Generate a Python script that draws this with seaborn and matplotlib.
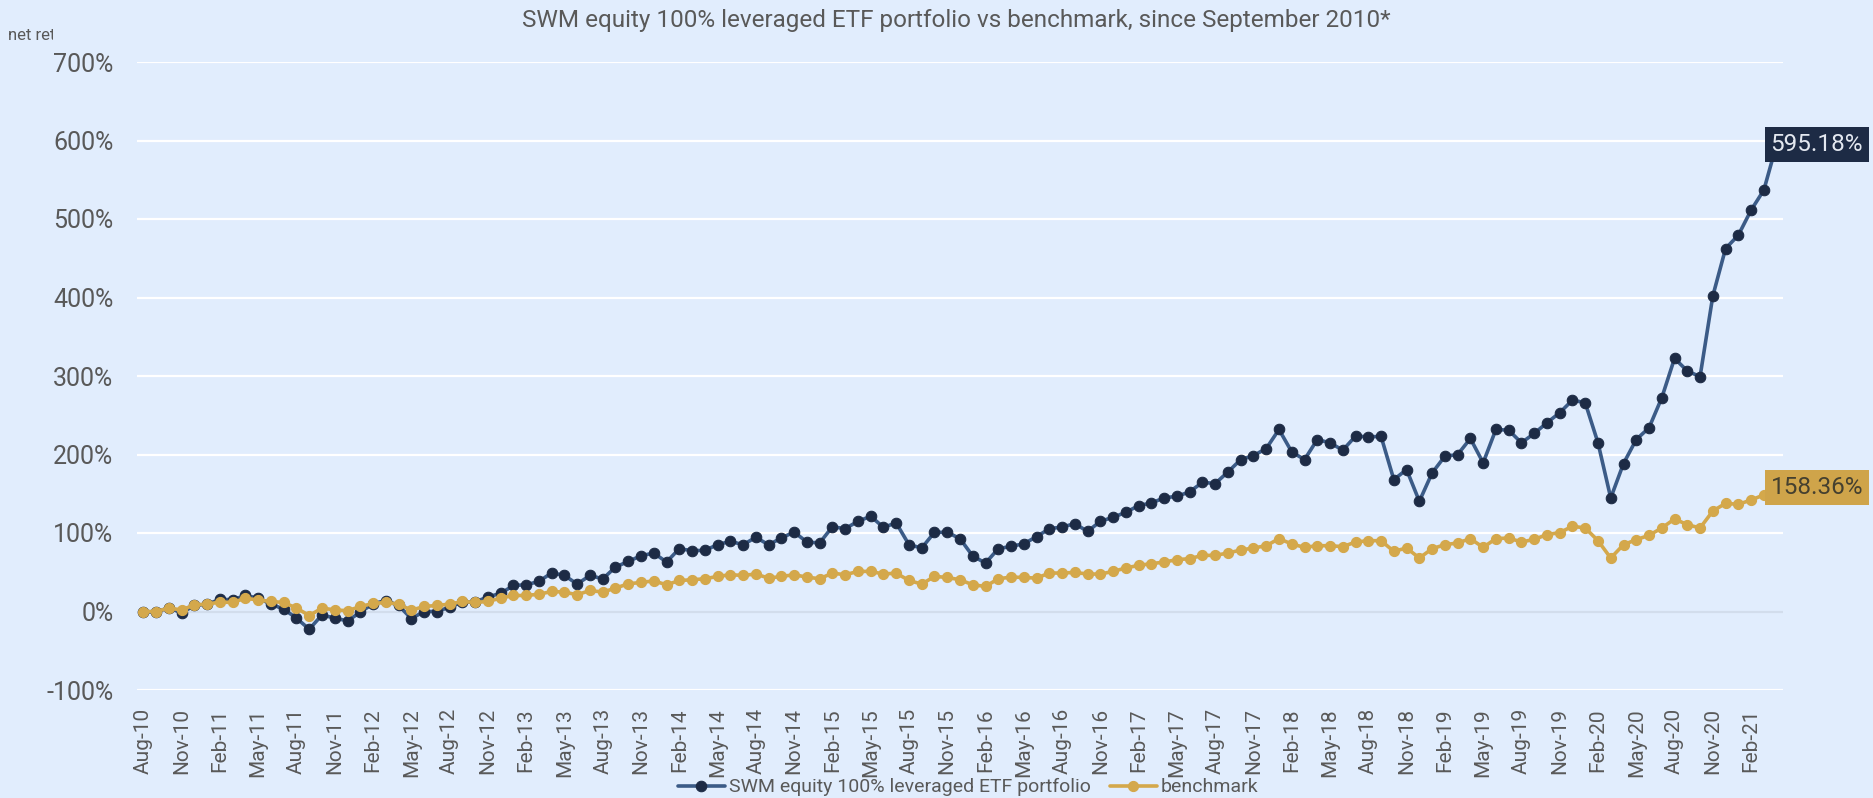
import matplotlib
matplotlib.use("Agg")
import matplotlib.pyplot as plt
from matplotlib.transforms import Bbox, TransformedBbox
import numpy as np
import pandas as pd
import seaborn as sns

sns.set_theme(style="white")
plt.rcParams['font.family'] = ['Roboto', 'DejaVu Sans']

# monthly net return since Aug-10 (%)
months = pd.date_range("2010-08-01", periods=129, freq="MS").strftime("%b-%y").tolist()

swm = [0, -1, 5, -2, 8,
       9, 15.7, 14.9, 20.4, 17, 9.4, 3, -8.5, -22.6, -4.3, -8.5, -11.9,
       -0.9, 10, 14, 7.7, -9, 0, 0, 5.5, 12, 12, 18.7, 23,
       33.2, 34, 38.3, 49.2, 46, 34.9, 46, 41.5, 56.6, 63.8, 71, 74.5,
       63, 80, 77.5, 77.9, 85.1, 89.4, 85.1, 94.5, 85, 93.6, 101.2, 88.5,
       87.3, 108, 105.5, 114.9, 121.3, 107.3, 112.8, 85.1, 80.9, 100.9, 100.9, 92.8,
       70.6, 61.7, 80, 83, 86.3, 95.3, 105.5, 107.6, 111.9, 102, 114.9, 120,
       126.4, 134.9, 138.3, 144.7, 146.8, 152.4, 164.6, 163, 177.8, 193.5, 198.6, 207.6,
       231.9, 203.3, 193.5, 219, 214.9, 205.5, 223.4, 222.5, 223, 168, 180.8, 140.4,
       176.5, 197.8, 199.9, 220.4, 189.4, 231.9, 231, 214.9, 226.8, 240.4, 253.2, 269.3,
       265.9, 214.9, 144.6, 188.5, 219.1, 234, 272.3, 322.5, 306.4, 299.2, 402, 462.4,
       479.4, 511.3, 536.9, 595.18]

bench = [0, 0, 4.3, 2, 8.5,
         9.4, 12, 11.5, 17, 14.5, 12.8, 11.5, 4.3, -5.1, 4.3, 2.1, 0.9,
         6.4, 10.2, 11.5, 9.4, 1.7, 6.4, 7.7, 9.4, 12.8, 11.5, 12.8, 17,
         20.4, 20.4, 22, 25.5, 24.7, 21.3, 26.8, 24.7, 29.8, 35.3, 37, 39,
         34, 39.5, 40.4, 41.7, 44.7, 46.8, 46, 47.7, 42.5, 44.7, 46.8, 43.8,
         41.7, 48.9, 46.8, 51.1, 51.1, 47.7, 48.9, 39.5, 34.9, 44.7, 43.4, 40.4,
         34, 32, 41.7, 43.8, 43.4, 42.5, 49, 49, 49.8, 47.7, 47.7, 51.1,
         55.4, 58.8, 60.9, 63, 66, 67.3, 71.5, 71.5, 74.5, 78.3, 80.9, 83.8,
         92.8, 86, 81.7, 83.8, 83.8, 82.6, 88.5, 90.2, 90.2, 76.6, 80.9, 68.1,
         80, 85.1, 87.3, 92.8, 81.7, 92.8, 93.6, 88.5, 91.9, 97.9, 100.5, 108.6,
         106.4, 90.2, 68.1, 85.1, 91.5, 97, 106.4, 117.9, 110.6, 106.4, 128, 137.8,
         136.5, 142.1, 148.5, 158.36]

yticks = list(range(-100, 701, 100))

bg = "#E1EDFD"
navy = "#1D2B45"
steel = "#3B5B87"
gold = "#D4A84B"
grey = "#595959"

df = pd.DataFrame({"idx": np.arange(len(months)), "swm": swm, "bench": bench})

fig = plt.figure(figsize=(18.74, 7.98), dpi=100, facecolor=bg)
ax = fig.add_axes([137/1874, 1-690/798, (1783-137)/1874, (690-62)/798])
ax.set_facecolor(bg)

for y in yticks:
    ax.axhline(y, color="#D2DDEC" if y == 0 else "white", lw=1.6, zorder=0)

sns.lineplot(data=df, x="idx", y="swm", ax=ax, color=steel, lw=2.6,
             marker="o", markersize=7.6, markerfacecolor=navy, markeredgecolor=navy,
             label="SWM equity 100% leveraged ETF portfolio", legend=False, zorder=3)
sns.lineplot(data=df, x="idx", y="bench", ax=ax, color=gold, lw=2.6,
             marker="o", markersize=7.3, markerfacecolor=gold, markeredgecolor=gold,
             label="benchmark", legend=False, zorder=4)

ax.set_xlim(-0.5, len(months) - 0.5)
ax.set_ylim(-100, 700)
ax.set_yticks(yticks)
ax.set_yticklabels([f"{v}%" for v in yticks], fontsize=18, color=grey)
ax.set_xticks(range(0, len(months), 3))
ax.set_xticklabels(months[::3], rotation=90, fontsize=15, color=grey)
ax.tick_params(axis="y", length=0, pad=17)
ax.tick_params(axis="x", length=0, pad=13)
ax.set_xlabel("")
ax.set_ylabel("")
ax.grid(False)
for s in ax.spines.values():
    s.set_visible(False)

# end-of-series value labels
last = len(months) - 1
ax.annotate(f"{swm[-1]:.2f}%", xy=(last, swm[-1]), xytext=(-6, 0), textcoords="offset pixels",
            ha="left", va="center", fontsize=17.5, color="#E3E8F0", annotation_clip=False, zorder=6,
            bbox=dict(boxstyle="square,pad=0.25", fc=navy, ec="none"))
ax.annotate(f"{bench[-1]:.2f}%", xy=(last, bench[-1]), xytext=(-6, 0), textcoords="offset pixels",
            ha="left", va="center", fontsize=17.5, color="#45402F", annotation_clip=False, zorder=6,
            bbox=dict(boxstyle="square,pad=0.25", fc="#CFA44A", ec="none"))

fig.text(956/1874, 1-20/798, "SWM equity 100% leveraged ETF portfolio vs benchmark, since September 2010*",
         ha="center", va="center", fontsize=17.5, color=grey)

t = fig.text(8/1874, 1-36/798, "net return", ha="left", va="center", fontsize=12, color=grey)
t.set_clip_box(TransformedBbox(Bbox([[0, 0], [53/1874, 1]]), fig.transFigure))
t.set_clip_on(True)

fig.legend(loc="lower center", bbox_to_anchor=(968/1874, -0.02), ncol=2, frameon=False, fontsize=14,
           labelcolor=grey, handlelength=2.4, handletextpad=0.2, columnspacing=1.0)

fig.savefig("out.png", dpi=100, facecolor=bg)
